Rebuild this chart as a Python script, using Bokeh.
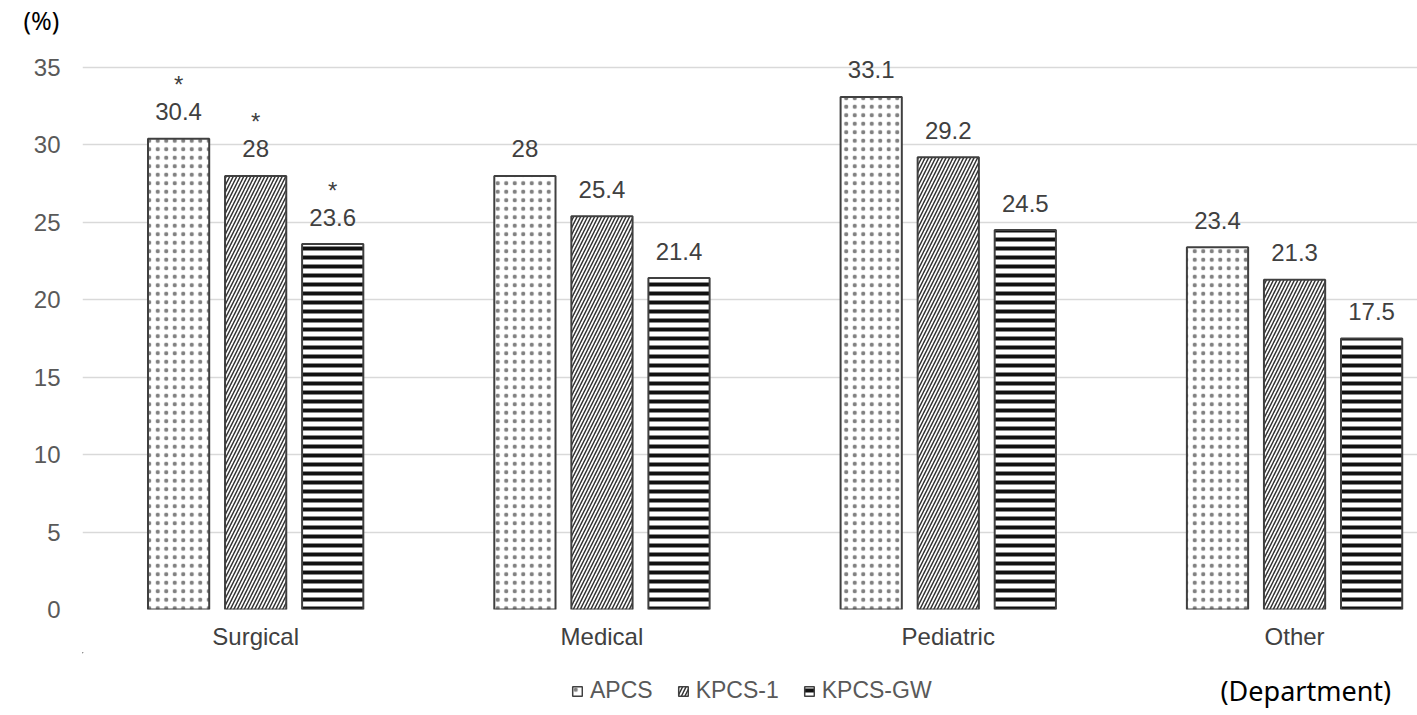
from bokeh.plotting import figure
from bokeh.layouts import column
from bokeh.models import ColumnDataSource, FixedTicker, Legend, LegendItem, Range1d, Title
from bokeh.core.properties import value
from bokeh.embed import file_html
from bokeh.resources import INLINE

categories = ["Surgical", "Medical", "Pediatric", "Other"]
series_names = ["APCS", "KPCS-1", "KPCS-GW"]
apcs = [30.4, 28, 33.1, 23.4]
kpcs1 = [28, 25.4, 29.2, 21.3]
kpcsgw = [23.6, 21.4, 24.5, 17.5]
significant = [True, False, False, False]
y_ticks = [0, 5, 10, 15, 20, 25, 30, 35]
y_unit_label = "(%)"
x_unit_label = "(Department)"

FONT = "Liberation Sans"
KFONT = "Noto Sans"
TICK = "#595959"
LBL = "#404040"

W = 1417
H_MAIN = 652
H_LEG = 715 - H_MAIN
LEFT = 82
TOP = 28
PX_PER_UNIT = 542.0 / 35.0
y_end = 35 + (67 - TOP) / PX_PER_UNIT

p = figure(width=W, height=H_MAIN, output_backend="svg", toolbar_location=None,
           x_range=(-0.5, 3.355), y_range=(0, y_end),
           min_border_left=LEFT, min_border_right=0, min_border_top=TOP, min_border_bottom=43)
p.outline_line_color = None
p.xgrid.grid_line_color = None
p.ygrid.grid_line_color = "#d9d9d9"
p.ygrid.grid_line_width = 1.5

p.yaxis.ticker = FixedTicker(ticks=y_ticks)
p.yaxis.axis_line_color = None
p.yaxis.major_tick_line_color = None
p.yaxis.minor_tick_line_color = None
p.yaxis.major_tick_out = 0
p.yaxis.major_label_text_font = FONT
p.yaxis.major_label_text_font_size = "24px"
p.yaxis.major_label_text_color = TICK
p.yaxis.major_label_standoff = 22

p.xaxis.ticker = FixedTicker(ticks=list(range(len(categories))))
p.xaxis.major_label_overrides = {i: c for i, c in enumerate(categories)}
p.xaxis.axis_line_color = None
p.xaxis.major_tick_line_color = None
p.xaxis.minor_tick_line_color = None
p.xaxis.major_tick_out = 0
p.xaxis.major_label_text_font = FONT
p.xaxis.major_label_text_font_size = "24px"
p.xaxis.major_label_text_color = LBL
p.xaxis.major_label_standoff = 13

p.add_layout(Title(text=y_unit_label, align="left", vertical_align="top", offset=-59,
                   standoff=-20, text_font=KFONT, text_font_size="25px",
                   text_font_style="normal", text_color="black"), "above")

offsets = [-0.2225, 0.0, 0.2225]
bar_w = 0.1768
styles = [
    dict(hatch_pattern="dot", hatch_scale=8.5, hatch_weight=1, hatch_color="#808080"),
    dict(hatch_pattern="right_diagonal_line", hatch_scale=7, hatch_weight=1.5, hatch_color="#333333"),
    dict(hatch_pattern="horizontal_line", hatch_scale=9, hatch_weight=4, hatch_color="#111111"),
]

q = figure(width=W, height=H_LEG, output_backend="svg", toolbar_location=None,
           x_range=Range1d(LEFT, W), y_range=Range1d(H_LEG, 0),
           x_axis_type=None, y_axis_type=None,
           min_border_left=LEFT, min_border_right=0, min_border_top=0, min_border_bottom=0)
q.outline_line_color = None
q.xgrid.visible = False
q.ygrid.visible = False

items = []
for name, vals, off, st in zip(series_names, [apcs, kpcs1, kpcsgw], offsets, styles):
    xs = [i + off for i in range(len(categories))]
    src = ColumnDataSource(dict(x=xs, top=vals, label=[f"{v:g}" for v in vals],
                                star=["*" if s else "" for s in significant]))
    p.vbar(x="x", top="top", width=bar_w, source=src, fill_color="white",
           line_color="#404040", line_width=2, **st)
    p.text(x="x", y="top", text="label", source=src, text_align="center",
           text_baseline="alphabetic", y_offset=-27, text_font=value(FONT),
           text_font_size="24px", text_color=LBL)
    p.text(x="x", y="top", text="star", source=src, text_align="center",
           text_baseline="alphabetic", y_offset=-54, text_font=value(FONT),
           text_font_size="24px", text_color=LBL)
    # legend swatch renderer, placed far outside the legend strip's visible range
    r = q.vbar(x=[-5000], top=[-5000], bottom=[-5010], width=5, fill_color="white",
               line_color="#404040", line_width=1.5, **st)
    items.append(LegendItem(label=name, renderers=[r]))

legend = Legend(items=items, orientation="horizontal", location=(571 - LEFT, 11),
                glyph_width=12, glyph_height=12, label_standoff=7, spacing=24,
                padding=0, margin=0, border_line_color=None, background_fill_alpha=0,
                label_text_font=FONT, label_text_font_size="23px", label_text_color=TICK)
q.add_layout(legend, "center")
q.text(x=[1220], y=[38], text=[x_unit_label], text_font=value(KFONT),
       text_font_size="27px", text_color="black", text_baseline="alphabetic")

layout = column(p, q, spacing=0)
open("out.html", "w").write(file_html(layout, INLINE))
